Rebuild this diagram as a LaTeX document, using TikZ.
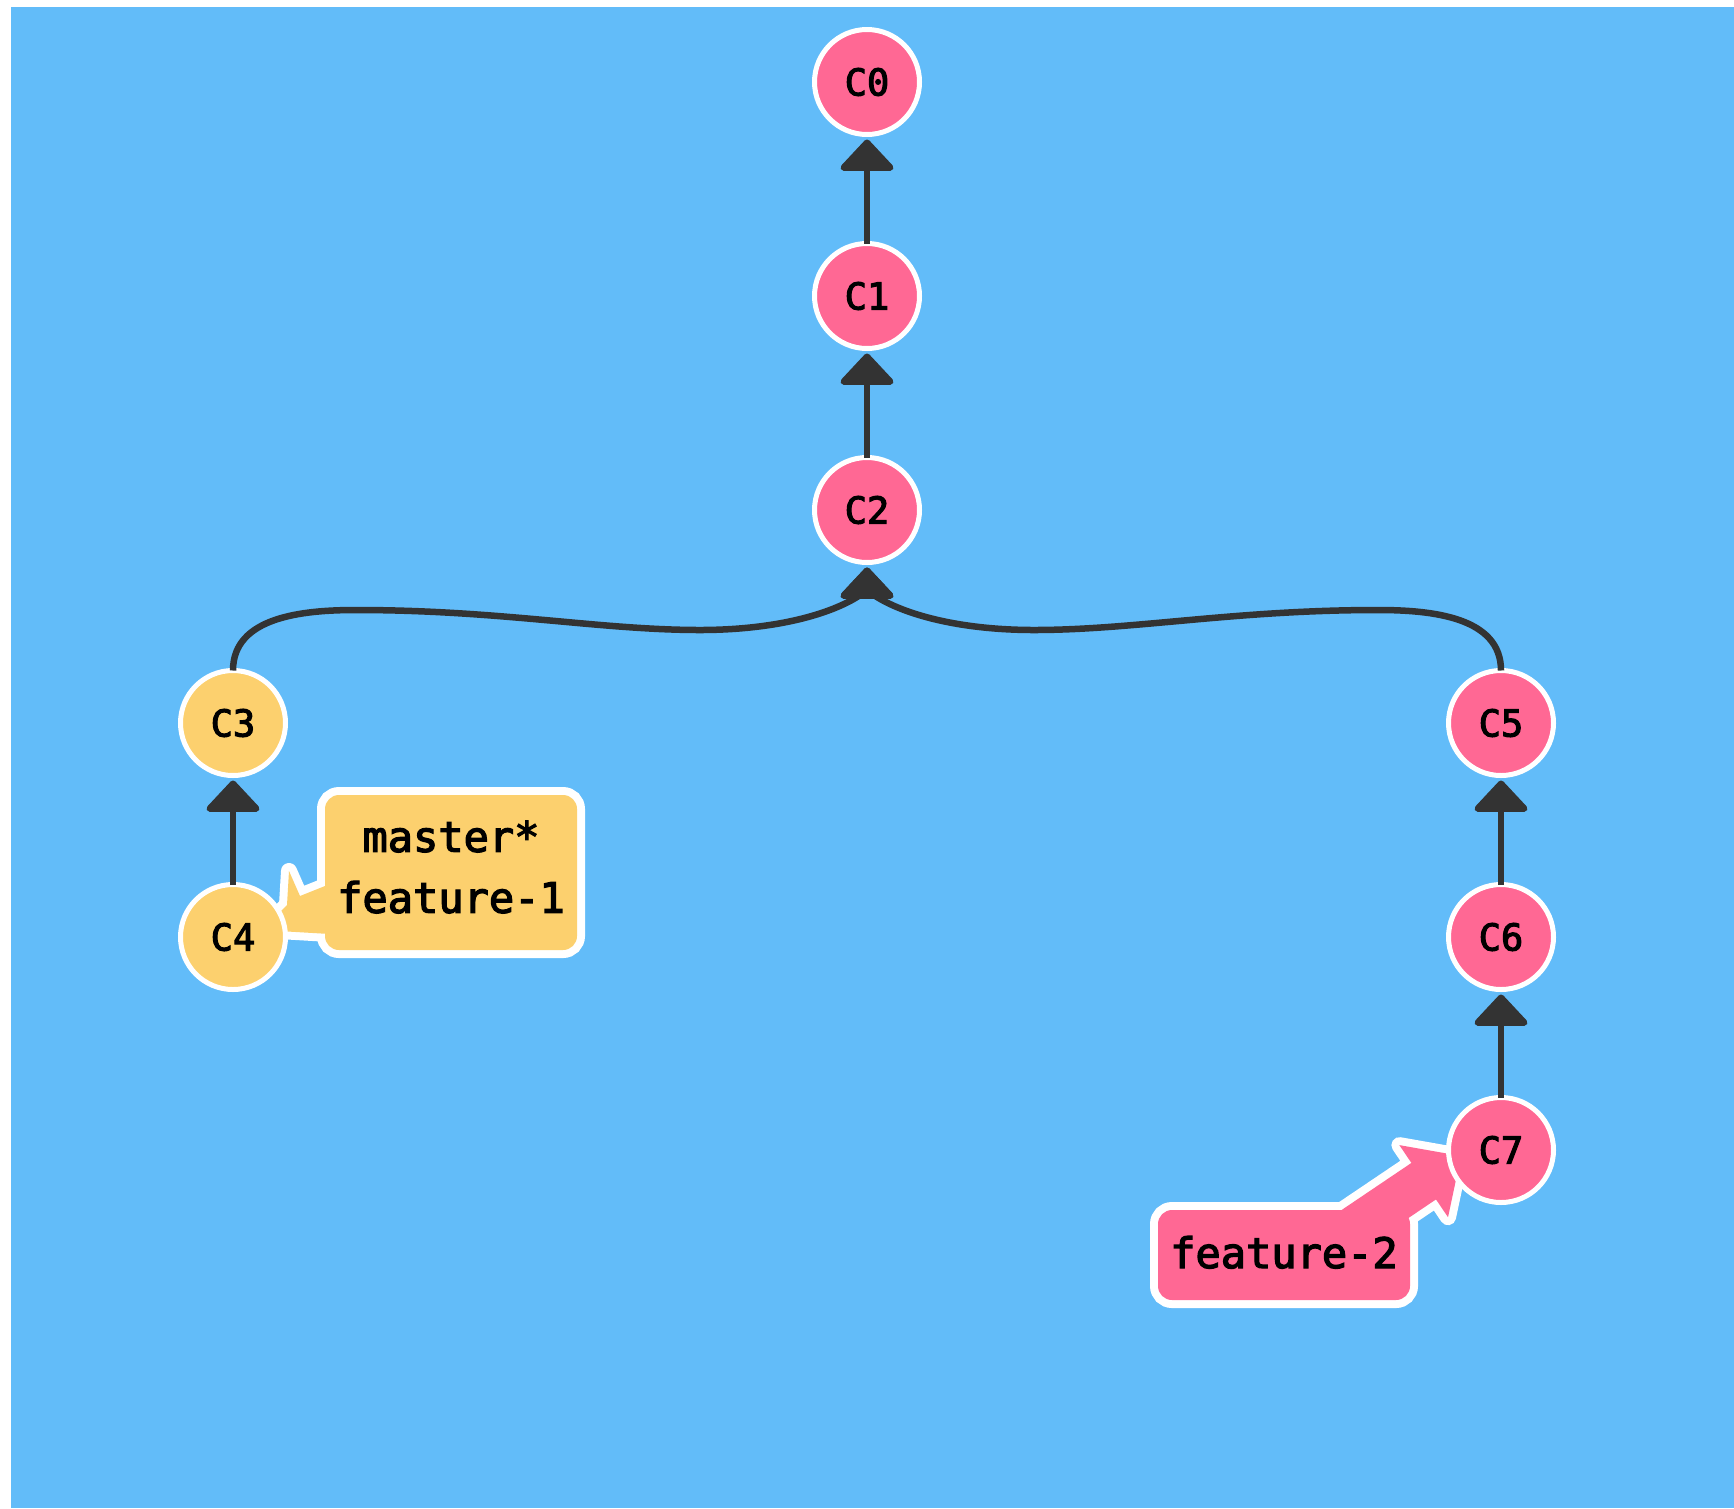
\documentclass[tikz,border=0pt]{standalone}
\usepackage{fontspec}
\newfontfamily\monof[FakeBold=3]{DejaVu Sans Mono}
\usetikzlibrary{arrows.meta}
\definecolor{bgblue}{RGB}{98,188,249}
\definecolor{cpink}{RGB}{255,104,148}
\definecolor{cyellow}{RGB}{252,208,110}
\definecolor{edgec}{RGB}{51,51,51}
\pgfdeclarelayer{bg}
\pgfsetlayers{bg,main}
\begin{document}
\begin{tikzpicture}[x=1pt,y=-1pt,
  commit/.style={circle, draw=white, line width=5pt, minimum size=105pt, inner sep=0pt, outer sep=0pt,
    font=\monof\fontsize{37}{44}\selectfont, text=black},
  pinkc/.style={commit, fill=cpink},
  yellowc/.style={commit, fill=cyellow},
  lbl/.style={rectangle, inner sep=0pt, outer sep=0pt, align=center,
    font=\monof\fontsize{42}{61}\selectfont, text=black},
  edge/.style={draw=edgec, line width=6.5pt, -{Triangle[width=60pt,length=33pt,round]}, shorten >=5pt},
  boxout/.style={draw=white, line width=16pt, rounded corners=14pt},
  ptrout/.style={draw=white, line width=16pt, line join=round},
]
\useasboundingbox (0,0) rectangle (1734,1508);

% label text nodes
\node[lbl, minimum width=252pt, minimum height=155pt] (M) at (451,872.5) {};
\node[lbl] (Mt) at (451,867) {master*\\feature-1};
\node[lbl, minimum width=252pt, minimum height=90pt] (F) at (1284,1255) {};
\node[lbl, anchor=base] (Ft) at (1284,1268) {feature-2};

\begin{pgfonlayer}{bg}
  \fill[white] (0,0) rectangle (1734,1508);
  \fill[bgblue] (11,7) rectangle (1734,1508);
  % outlines
  \path[boxout] (M.south west) rectangle (M.north east);
  \path[ptrout] (330,884) -- (300,896) -- (289,871) -- (287,905) -- (262,930) -- (330,934) -- cycle;
  \path[boxout] (F.south west) rectangle (F.north east);
  \begin{scope}[shift={(1461,1156)}, rotate=34]
    \path[ptrout] (0,0) -- (-45,43.5) -- (-45,22) -- (-200,22) -- (-200,-22) -- (-45,-22) -- (-45,-43.5) -- cycle;
  \end{scope}
  % fills
  \fill[cyellow, rounded corners=14pt] (M.south west) rectangle (M.north east);
  \fill[cyellow] (330,884) -- (300,896) -- (289,871) -- (287,905) -- (262,930) -- (330,934) -- cycle;
  \fill[cpink, rounded corners=14pt] (F.south west) rectangle (F.north east);
  \begin{scope}[shift={(1461,1156)}, rotate=34]
    \fill[cpink] (0,0) -- (-45,43.5) -- (-45,22) -- (-200,22) -- (-200,-22) -- (-45,-22) -- (-45,-43.5) -- cycle;
  \end{scope}
\end{pgfonlayer}

% commits
\node[pinkc] (C0) at (867,82) {C0};
\node[pinkc] (C1) at (867,296) {C1};
\node[pinkc] (C2) at (867,510) {C2};
\node[yellowc] (C3) at (233,723) {C3};
\node[yellowc] (C4) at (233,937) {C4};
\node[pinkc] (C5) at (1501,723) {C5};
\node[pinkc] (C6) at (1501,937) {C6};
\node[pinkc] (C7) at (1501,1150) {C7};

% waypoints
\coordinate (L1) at (356,610);
\coordinate (L2) at (700,630);
\coordinate (R1) at (1378,610);
\coordinate (R2) at (1034,630);
\coordinate (J) at (867,590);

% edges
\draw[edge] (C1) -- (C0);
\draw[edge] (C2) -- (C1);
\draw[edge] (C4) -- (C3);
\draw[edge] (C6) -- (C5);
\draw[edge] (C7) -- (C6);
\draw[edge] (C3.north) to[out=90,in=180] (L1)
   .. controls (500,610) and (600,630) .. (L2)
   .. controls (780,630) and (840,612) .. (J) -- (C2.south);
\draw[edge] (C5.north) to[out=90,in=0] (R1)
   .. controls (1234,610) and (1134,630) .. (R2)
   .. controls (954,630) and (894,612) .. (J) -- (C2.south);
\end{tikzpicture}
\end{document}
